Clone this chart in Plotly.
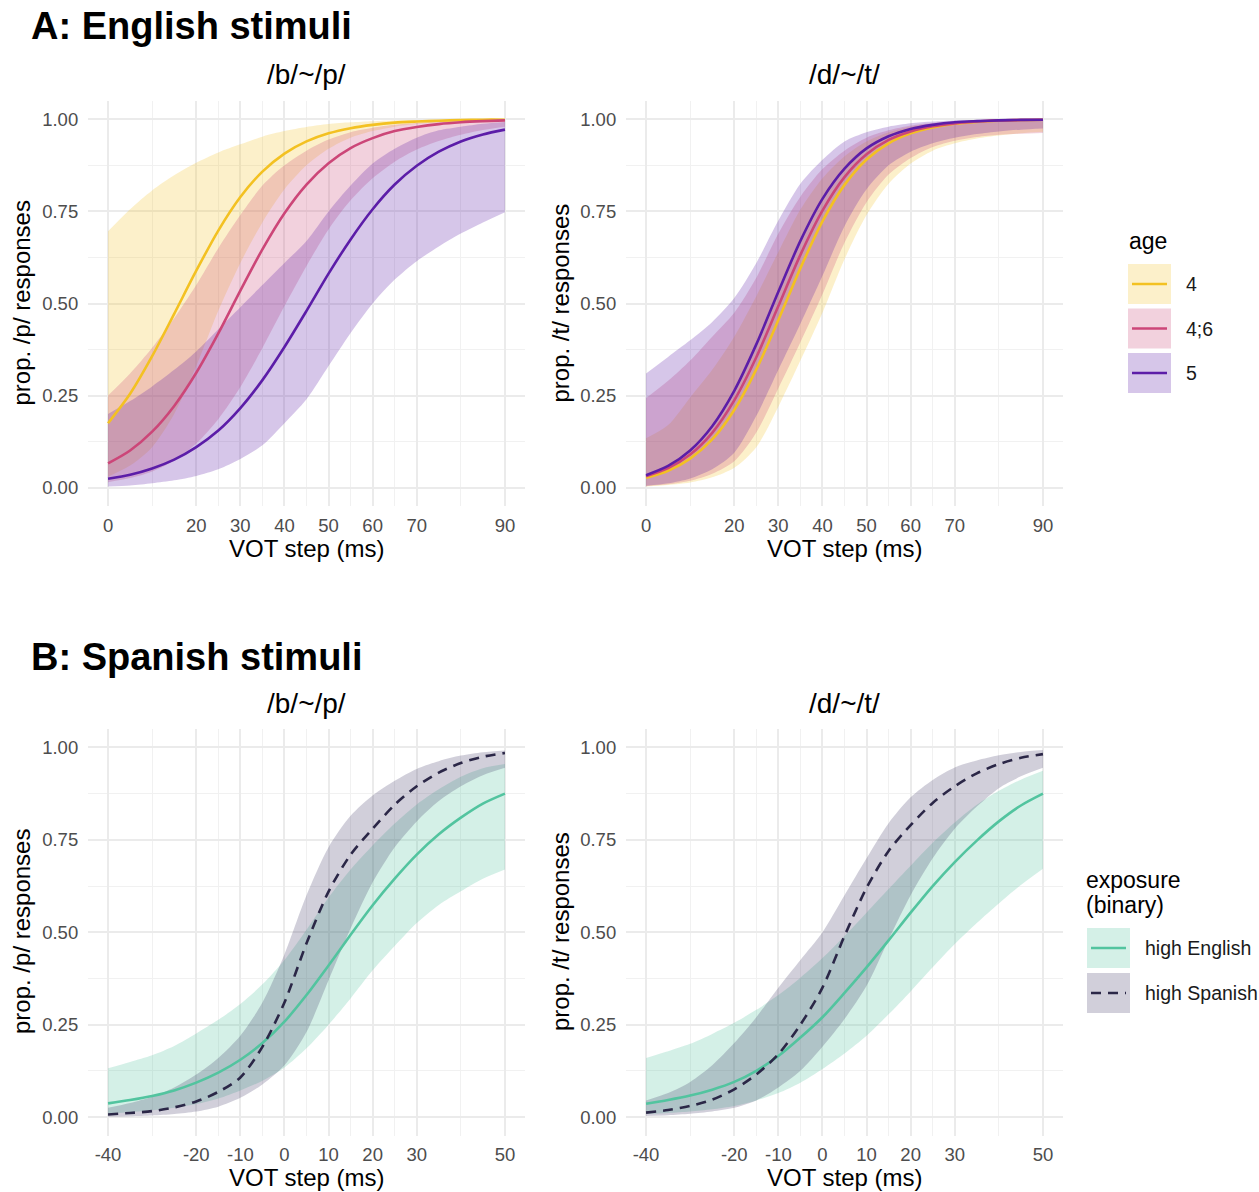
import plotly.graph_objects as go

W, H = 1259, 1192
FONT = "Liberation Sans, Arial, Helvetica, sans-serif"

# ---------------- data ----------------
# Panel A: English stimuli, VOT 0..90 ms
vot_en = [0, 5, 10, 15, 20, 25, 30, 35, 40, 45, 50, 55, 60, 65, 70, 75, 80, 85, 90]
ages = ["4", "4;6", "5"]
age_line_colors = ["#F3C122", "#CC4678", "#5C1DA8"]
age_band_colors = ["rgba(245,194,42,0.25)", "rgba(204,70,120,0.25)", "rgba(92,29,168,0.25)"]

# /b/~/p/
bp_fit_4 = [0.175, 0.255, 0.357, 0.472, 0.589, 0.698, 0.789, 0.858, 0.907, 0.940, 0.962, 0.976, 0.985, 0.991, 0.994, 0.996, 0.998, 0.999, 0.999]
bp_hi_4 = [0.696, 0.756, 0.807, 0.848, 0.882, 0.910, 0.932, 0.953, 0.968, 0.979, 0.987, 0.992, 0.995, 0.997, 0.998, 0.999, 0.999, 1.0, 1.0]
bp_lo_4 = [0.03, 0.06, 0.11, 0.20, 0.33, 0.48, 0.61, 0.72, 0.81, 0.875, 0.92, 0.95, 0.968, 0.98, 0.987, 0.992, 0.995, 0.996, 0.997]
bp_fit_46 = [0.066, 0.101, 0.152, 0.222, 0.312, 0.419, 0.535, 0.647, 0.745, 0.823, 0.881, 0.922, 0.949, 0.968, 0.979, 0.987, 0.992, 0.995, 0.997]
bp_hi_46 = [0.25, 0.31, 0.38, 0.46, 0.55, 0.65, 0.74, 0.82, 0.875, 0.915, 0.945, 0.965, 0.977, 0.985, 0.99, 0.994, 0.996, 0.998, 0.999]
bp_lo_46 = [0.015, 0.026, 0.044, 0.074, 0.12, 0.186, 0.273, 0.379, 0.493, 0.602, 0.701, 0.78, 0.84, 0.885, 0.918, 0.941, 0.958, 0.971, 0.98]
bp_fit_5 = [0.024, 0.035, 0.052, 0.076, 0.110, 0.155, 0.216, 0.292, 0.382, 0.480, 0.581, 0.674, 0.756, 0.823, 0.874, 0.912, 0.940, 0.959, 0.972]
bp_hi_5 = [0.20, 0.235, 0.275, 0.32, 0.37, 0.43, 0.49, 0.55, 0.61, 0.67, 0.75, 0.82, 0.88, 0.92, 0.95, 0.97, 0.98, 0.988, 0.993]
bp_lo_5 = [0.003, 0.006, 0.012, 0.02, 0.032, 0.05, 0.078, 0.115, 0.175, 0.24, 0.33, 0.42, 0.50, 0.565, 0.615, 0.655, 0.69, 0.72, 0.748]

# /d/~/t/
dt_fit_4 = [0.027, 0.046, 0.079, 0.131, 0.211, 0.321, 0.455, 0.596, 0.723, 0.822, 0.891, 0.935, 0.962, 0.978, 0.988, 0.993, 0.996, 0.998, 0.999]
dt_hi_4 = [0.134, 0.17, 0.245, 0.32, 0.41, 0.52, 0.64, 0.755, 0.84, 0.90, 0.94, 0.965, 0.98, 0.988, 0.993, 0.996, 0.998, 0.999, 0.999]
dt_lo_4 = [0.003, 0.007, 0.014, 0.028, 0.054, 0.11, 0.22, 0.345, 0.475, 0.62, 0.74, 0.825, 0.88, 0.915, 0.935, 0.948, 0.956, 0.962, 0.966]
dt_fit_46 = [0.031, 0.053, 0.090, 0.149, 0.237, 0.354, 0.493, 0.632, 0.752, 0.843, 0.905, 0.944, 0.967, 0.981, 0.989, 0.994, 0.997, 0.998, 0.999]
dt_hi_46 = [0.243, 0.29, 0.345, 0.41, 0.475, 0.57, 0.69, 0.79, 0.865, 0.915, 0.95, 0.97, 0.983, 0.99, 0.994, 0.997, 0.998, 0.999, 0.999]
dt_lo_46 = [0.004, 0.009, 0.019, 0.038, 0.072, 0.15, 0.27, 0.395, 0.525, 0.665, 0.775, 0.85, 0.895, 0.925, 0.942, 0.952, 0.958, 0.961, 0.963]
dt_fit_5 = [0.034, 0.059, 0.101, 0.167, 0.263, 0.389, 0.532, 0.670, 0.784, 0.866, 0.921, 0.954, 0.974, 0.985, 0.992, 0.995, 0.997, 0.9985, 0.999]
dt_hi_5 = [0.31, 0.355, 0.40, 0.45, 0.515, 0.61, 0.725, 0.825, 0.89, 0.94, 0.965, 0.98, 0.989, 0.994, 0.997, 0.998, 0.999, 0.999, 1.0]
dt_lo_5 = [0.005, 0.012, 0.025, 0.05, 0.095, 0.195, 0.32, 0.445, 0.575, 0.71, 0.81, 0.875, 0.912, 0.935, 0.95, 0.96, 0.967, 0.972, 0.975]

# Panel B: Spanish stimuli, VOT -40..50 ms
vot_sp = [-40, -35, -30, -25, -20, -15, -10, -5, 0, 5, 10, 15, 20, 25, 30, 35, 40, 45, 50]
exposures = ["high English", "high Spanish"]
exp_line_colors = ["#52C49F", "#2B2747"]
exp_band_colors = ["rgba(82,196,159,0.25)", "rgba(45,35,85,0.22)"]
exp_dash = ["solid", "10px,7px"]

sp_bp_fit_eng = [0.037, 0.046, 0.057, 0.072, 0.093, 0.12, 0.155, 0.200, 0.258, 0.330, 0.41, 0.493, 0.573, 0.645, 0.71, 0.765, 0.81, 0.848, 0.875]
sp_bp_lo_eng = [0.0096, 0.013, 0.018, 0.025, 0.035, 0.050, 0.072, 0.098, 0.134, 0.186, 0.25, 0.321, 0.397, 0.463, 0.525, 0.574, 0.611, 0.645, 0.67]
sp_bp_hi_eng = [0.132, 0.149, 0.167, 0.192, 0.226, 0.263, 0.306, 0.359, 0.425, 0.507, 0.594, 0.670, 0.735, 0.794, 0.846, 0.887, 0.921, 0.944, 0.955]
sp_bp_fit_spa = [0.007, 0.011, 0.016, 0.026, 0.042, 0.068, 0.107, 0.19, 0.31, 0.47, 0.61, 0.71, 0.78, 0.845, 0.895, 0.932, 0.958, 0.975, 0.985]
sp_bp_lo_spa = [0.001, 0.002, 0.004, 0.008, 0.015, 0.028, 0.052, 0.088, 0.14, 0.23, 0.37, 0.51, 0.635, 0.73, 0.80, 0.855, 0.895, 0.925, 0.945]
sp_bp_hi_spa = [0.025, 0.038, 0.055, 0.08, 0.115, 0.16, 0.22, 0.31, 0.44, 0.6, 0.73, 0.815, 0.87, 0.91, 0.942, 0.963, 0.978, 0.987, 0.992]

sp_dt_fit_eng = [0.036, 0.046, 0.058, 0.074, 0.095, 0.125, 0.165, 0.215, 0.27, 0.336, 0.405, 0.478, 0.553, 0.625, 0.69, 0.748, 0.80, 0.843, 0.875]
sp_dt_lo_eng = [0.008, 0.011, 0.015, 0.021, 0.03, 0.045, 0.065, 0.093, 0.13, 0.172, 0.22, 0.278, 0.34, 0.405, 0.468, 0.525, 0.578, 0.628, 0.672]
sp_dt_hi_eng = [0.16, 0.178, 0.198, 0.225, 0.255, 0.29, 0.33, 0.377, 0.43, 0.49, 0.553, 0.617, 0.68, 0.742, 0.797, 0.845, 0.883, 0.913, 0.937]
sp_dt_fit_spa = [0.012, 0.019, 0.03, 0.047, 0.075, 0.115, 0.17, 0.25, 0.35, 0.49, 0.62, 0.72, 0.79, 0.85, 0.895, 0.93, 0.955, 0.972, 0.982]
sp_dt_lo_spa = [0.003, 0.005, 0.009, 0.015, 0.025, 0.045, 0.08, 0.125, 0.19, 0.265, 0.355, 0.48, 0.6, 0.7, 0.78, 0.84, 0.89, 0.922, 0.945]
sp_dt_hi_spa = [0.045, 0.065, 0.095, 0.14, 0.2, 0.27, 0.35, 0.425, 0.5, 0.6, 0.70, 0.795, 0.865, 0.912, 0.946, 0.965, 0.979, 0.988, 0.993]

# ticks
en_ticks = [0, 20, 30, 40, 50, 60, 70, 90]
en_minor = [10, 25, 35, 45, 55, 65, 80]
sp_ticks = [-40, -20, -10, 0, 10, 20, 30, 50]
sp_minor = [-30, -15, -5, 5, 15, 25, 40]
y_ticks = [0, 0.25, 0.5, 0.75, 1.0]
y_ticktext = ["0.00", "0.25", "0.50", "0.75", "1.00"]
y_minor = [0.125, 0.375, 0.625, 0.875]

# ---------------- figure ----------------
fig = go.Figure()


def fx(px):
    return px / W


def fy(py):
    return 1 - py / H


def add_band(x, lo, hi, fill, xa, ya):
    fig.add_trace(go.Scatter(x=x, y=lo, mode="lines", line=dict(width=0, shape="spline", smoothing=0.8),
                             hoverinfo="skip", showlegend=False, xaxis=xa, yaxis=ya))
    fig.add_trace(go.Scatter(x=x, y=hi, mode="lines", line=dict(width=0, shape="spline", smoothing=0.8),
                             fill="tonexty", fillcolor=fill, hoverinfo="skip", showlegend=False,
                             xaxis=xa, yaxis=ya))


def add_line(x, y, color, xa, ya, dash="solid", name=""):
    fig.add_trace(go.Scatter(x=x, y=y, mode="lines", name=name,
                             line=dict(color=color, width=2.6, shape="spline", smoothing=0.8, dash=dash),
                             showlegend=False, xaxis=xa, yaxis=ya))


A_bp = [(bp_fit_4, bp_lo_4, bp_hi_4), (bp_fit_46, bp_lo_46, bp_hi_46), (bp_fit_5, bp_lo_5, bp_hi_5)]
A_dt = [(dt_fit_4, dt_lo_4, dt_hi_4), (dt_fit_46, dt_lo_46, dt_hi_46), (dt_fit_5, dt_lo_5, dt_hi_5)]
for series, xa, ya in [(A_bp, "x", "y"), (A_dt, "x2", "y2")]:
    for i, (fit, lo, hi) in enumerate(series):
        add_band(vot_en, lo, hi, age_band_colors[i], xa, ya)
    for i, (fit, lo, hi) in enumerate(series):
        add_line(vot_en, fit, age_line_colors[i], xa, ya, name=ages[i])

B_bp = [(sp_bp_fit_eng, sp_bp_lo_eng, sp_bp_hi_eng), (sp_bp_fit_spa, sp_bp_lo_spa, sp_bp_hi_spa)]
B_dt = [(sp_dt_fit_eng, sp_dt_lo_eng, sp_dt_hi_eng), (sp_dt_fit_spa, sp_dt_lo_spa, sp_dt_hi_spa)]
for series, xa, ya in [(B_bp, "x3", "y3"), (B_dt, "x4", "y4")]:
    for i, (fit, lo, hi) in enumerate(series):
        add_band(vot_sp, lo, hi, exp_band_colors[i], xa, ya)
    for i, (fit, lo, hi) in enumerate(series):
        add_line(vot_sp, fit, exp_line_colors[i], xa, ya, dash=exp_dash[i], name=exposures[i])

# domains (pixel based)
xL = [fx(88.2), fx(524.8)]
xR = [fx(626.2), fx(1062.8)]
yA = [fy(506.1), fy(100.9)]
yB = [fy(1135.5), fy(729.0)]

grid_major = "#EBEBEB"
grid_minor = "#F1F1F1"
tickfont = dict(family=FONT, size=18.5, color="#4D4D4D")


def xaxis_cfg(domain, anchor, rng, ticks, minor):
    return dict(domain=domain, anchor=anchor, range=rng, tickvals=ticks, ticktext=[str(t) for t in ticks],
                showgrid=True, gridcolor=grid_major, gridwidth=2.2, zeroline=False, showline=False,
                ticks="", tickfont=tickfont, ticklabelstandoff=6, fixedrange=True,
                minor=dict(tickvals=minor, showgrid=True, gridcolor=grid_minor, gridwidth=1.2, ticks=""))


def yaxis_cfg(domain, anchor):
    return dict(domain=domain, anchor=anchor, range=[-0.05, 1.05], tickvals=y_ticks, ticktext=y_ticktext,
                showgrid=True, gridcolor=grid_major, gridwidth=2.2, zeroline=False, showline=False,
                ticks="", tickfont=tickfont, ticklabelstandoff=9, fixedrange=True,
                minor=dict(tickvals=y_minor, showgrid=True, gridcolor=grid_minor, gridwidth=1.2, ticks=""))


fig.update_layout(
    width=W, height=H, margin=dict(l=0, r=0, t=0, b=0),
    paper_bgcolor="white", plot_bgcolor="white", showlegend=False,
    font=dict(family=FONT, color="black"),
    xaxis=xaxis_cfg(xL, "y", [-4.5, 94.5], en_ticks, en_minor),
    yaxis=yaxis_cfg(yA, "x"),
    xaxis2=xaxis_cfg(xR, "y2", [-4.5, 94.5], en_ticks, en_minor),
    yaxis2=yaxis_cfg(yA, "x2"),
    xaxis3=xaxis_cfg(xL, "y3", [-44.5, 54.5], sp_ticks, sp_minor),
    yaxis3=yaxis_cfg(yB, "x3"),
    xaxis4=xaxis_cfg(xR, "y4", [-44.5, 54.5], sp_ticks, sp_minor),
    yaxis4=yaxis_cfg(yB, "x4"),
)

annotations = []
shapes = []


def ann(text, px, py, size, color="black", xanchor="center", yanchor="middle", angle=0):
    annotations.append(dict(text=text, x=fx(px), y=fy(py), xref="paper", yref="paper", showarrow=False,
                            xanchor=xanchor, yanchor=yanchor, textangle=angle,
                            font=dict(family=FONT, size=size, color=color)))


# titles
ann("<b>A: English stimuli</b>", 29, 26, 38, xanchor="left")
ann("<b>B: Spanish stimuli</b>", 29, 657, 38, xanchor="left")
for cy in (74, 703):
    ann("/b/~/p/", 306.5, cy, 28)
    ann("/d/~/t/", 844.5, cy, 28)
for cy in (548, 1177):
    ann("VOT step (ms)", 306.5, cy, 24)
    ann("VOT step (ms)", 844.5, cy, 24)
for cy in (303.5, 932):
    ann("prop. /p/ responses", 21, cy, 24, angle=-90)
    ann("prop. /t/ responses", 560, cy, 24, angle=-90)

# legend A (age)
ann("age", 1127, 241, 23, xanchor="left")
keyA_x0, keyA_x1, keyA_top, keyA_h, keyA_step = 1128, 1171, 264, 40, 44.5
for i, lab in enumerate(ages):
    top = keyA_top + i * keyA_step
    shapes.append(dict(type="rect", xref="paper", yref="paper", x0=fx(keyA_x0), x1=fx(keyA_x1),
                       y0=fy(top + keyA_h), y1=fy(top), fillcolor=age_band_colors[i], line=dict(width=0)))
    shapes.append(dict(type="line", xref="paper", yref="paper", x0=fx(keyA_x0 + 4), x1=fx(keyA_x1 - 4),
                       y0=fy(top + keyA_h / 2), y1=fy(top + keyA_h / 2),
                       line=dict(color=age_line_colors[i], width=2.6)))
    ann(lab, 1184, top + keyA_h / 2, 19.5, color="#1A1A1A", xanchor="left")

# legend B (exposure)
ann("exposure", 1084, 880, 23, xanchor="left")
ann("(binary)", 1084, 905, 23, xanchor="left")
keyB_x0, keyB_x1, keyB_top, keyB_h, keyB_step = 1087, 1130, 928, 40, 45
for i, lab in enumerate(exposures):
    top = keyB_top + i * keyB_step
    shapes.append(dict(type="rect", xref="paper", yref="paper", x0=fx(keyB_x0), x1=fx(keyB_x1),
                       y0=fy(top + keyB_h), y1=fy(top), fillcolor=exp_band_colors[i], line=dict(width=0)))
    shapes.append(dict(type="line", xref="paper", yref="paper", x0=fx(keyB_x0 + 4), x1=fx(keyB_x1 - 4),
                       y0=fy(top + keyB_h / 2), y1=fy(top + keyB_h / 2),
                       line=dict(color=exp_line_colors[i], width=2.6, dash=exp_dash[i])))
    ann(lab, 1143, top + keyB_h / 2, 19.5, color="#1A1A1A", xanchor="left")

fig.update_layout(annotations=annotations, shapes=shapes)
fig.write_html("out.html")
